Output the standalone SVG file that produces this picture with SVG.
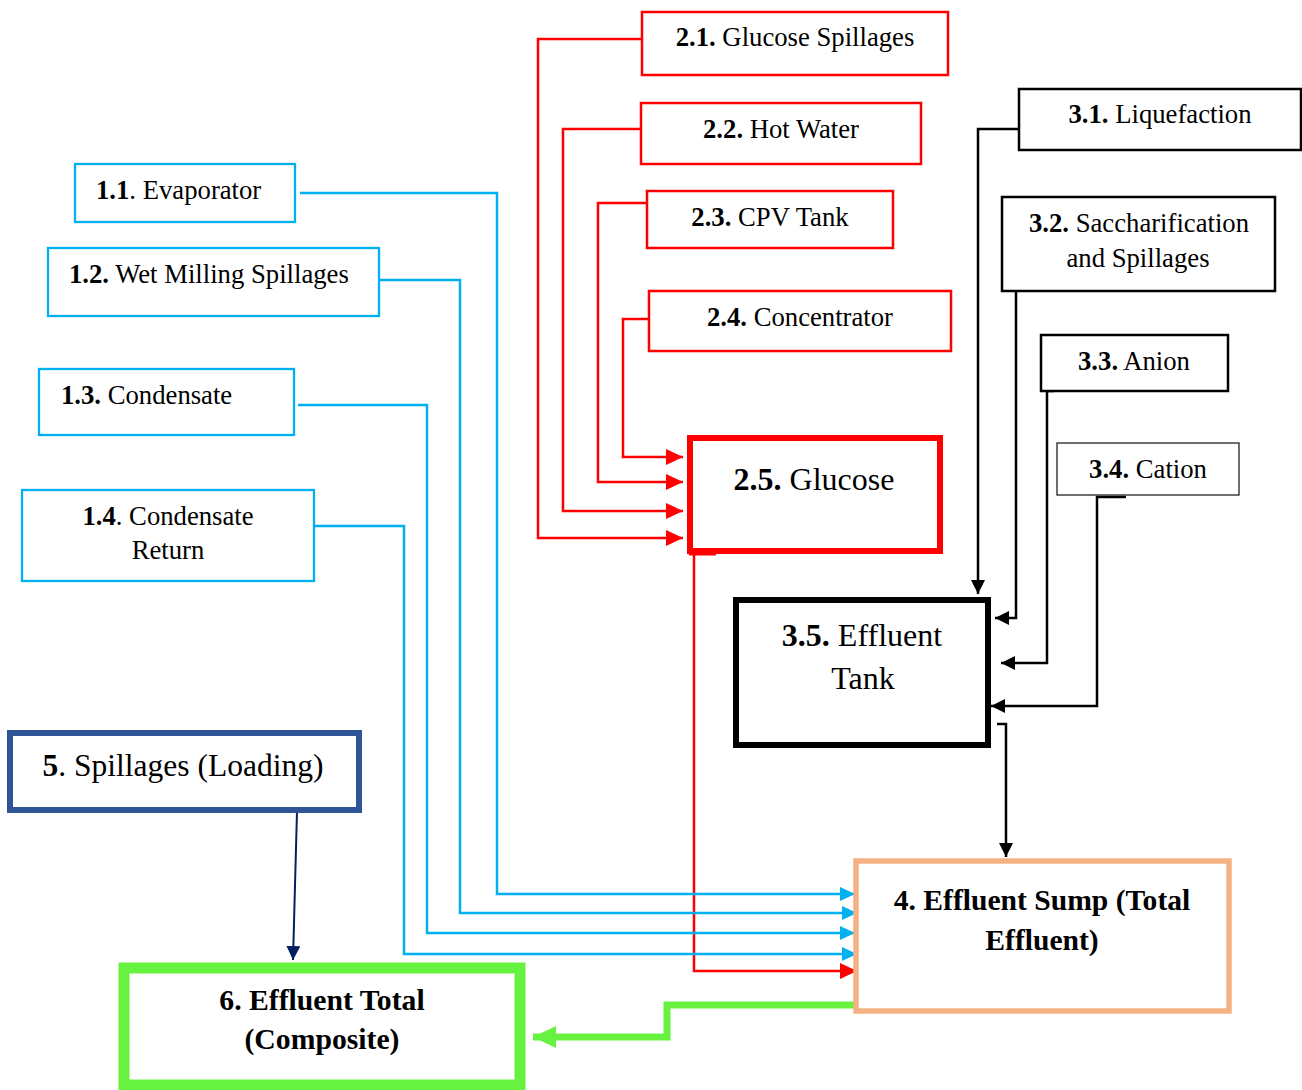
<svg xmlns="http://www.w3.org/2000/svg" width="1302" height="1090" viewBox="0 0 1302 1090">
<style>
text{font-family:"Liberation Serif","Times New Roman",serif;fill:#000;}
.t26{font-size:26.7px;}
.b{font-weight:bold;}
.red{fill:#fff;stroke:#ff0000;stroke-width:2.5;}
.blue{fill:#fff;stroke:#00b0f0;stroke-width:2.3;}
.blk{fill:#fff;stroke:#000;stroke-width:2.5;}
.cr{fill:none;stroke:#ff0000;stroke-width:2.5;}
.cb{fill:none;stroke:#00b0f0;stroke-width:2.5;}
.ck{fill:none;stroke:#000;stroke-width:2.5;}
</style>
<defs>
<marker id="ar" markerUnits="userSpaceOnUse" markerWidth="17" markerHeight="16" refX="17" refY="8" orient="auto"><path d="M0,0 L17,8 L0,16 z" fill="#ff0000"/></marker>
<marker id="ab" markerUnits="userSpaceOnUse" markerWidth="15" markerHeight="14" refX="15" refY="7" orient="auto"><path d="M0,0 L15,7 L0,14 z" fill="#00b0f0"/></marker>
<marker id="ak" markerUnits="userSpaceOnUse" markerWidth="14" markerHeight="14" refX="14" refY="7" orient="auto"><path d="M0,0 L14,7 L0,14 z" fill="#000"/></marker>
<marker id="an" markerUnits="userSpaceOnUse" markerWidth="14" markerHeight="14" refX="14" refY="7" orient="auto"><path d="M0,0 L14,7 L0,14 z" fill="#002060"/></marker>
<marker id="ag" markerUnits="userSpaceOnUse" markerWidth="23" markerHeight="22" refX="23" refY="11" orient="auto"><path d="M0,0 L23,11 L0,22 z" fill="#66f23f"/></marker>
</defs>

<g id="connectors">
<path class="cr" d="M642,39 H538 V538 H683" marker-end="url(#ar)"/>
<path class="cr" d="M642,129 H563 V511 H683" marker-end="url(#ar)"/>
<path class="cr" d="M648,203 H598 V482 H683" marker-end="url(#ar)"/>
<path class="cr" d="M648,319 H623 V457 H683" marker-end="url(#ar)"/>
<path d="M689,553 H716" fill="none" stroke="#ff0000" stroke-width="5"/>
<path class="cr" d="M694,553 V971 H857" marker-end="url(#ar)"/>
<path class="cb" d="M300,193 H497 V894 H855" marker-end="url(#ab)"/>
<path class="cb" d="M379,280 H460 V913 H857" marker-end="url(#ab)"/>
<path class="cb" d="M298,405 H427 V933 H855" marker-end="url(#ab)"/>
<path class="cb" d="M311,526 H404 V954 H857" marker-end="url(#ab)"/>
<path class="ck" d="M1022,129 H978 V594" marker-end="url(#ak)"/>
<path class="ck" d="M1027,236 H1016 V618 H995" marker-end="url(#ak)"/>
<path class="ck" d="M1054,391 H1047 V663 H1001" marker-end="url(#ak)"/>
<path class="ck" d="M1126,497 H1097 V706 H991" marker-end="url(#ak)"/>
<path class="ck" d="M997,724 H1006 V857" marker-end="url(#ak)"/>
<path d="M297,811 L293,960" fill="none" stroke="#002060" stroke-width="2" marker-end="url(#an)"/>
<path d="M857,1005 H667 V1037 H533" fill="none" stroke="#66f23f" stroke-width="7" marker-end="url(#ag)"/>
</g>

<g id="n2_1"><rect class="red" x="642" y="12" width="306" height="63"/>
<text class="t26" x="795" y="46" text-anchor="middle"><tspan class="b">2.1.</tspan> Glucose Spillages</text></g>
<g id="n2_2"><rect class="red" x="641" y="103" width="280" height="61"/>
<text class="t26" x="781" y="138" text-anchor="middle"><tspan class="b">2.2.</tspan> Hot Water</text></g>
<g id="n2_3"><rect class="red" x="647" y="191" width="246" height="57"/>
<text class="t26" x="770" y="226" text-anchor="middle"><tspan class="b">2.3.</tspan> CPV Tank</text></g>
<g id="n2_4"><rect class="red" x="649" y="291" width="302" height="60"/>
<text class="t26" x="800" y="326" text-anchor="middle"><tspan class="b">2.4.</tspan> Concentrator</text></g>
<g id="n2_5"><rect x="690" y="438" width="250" height="113" fill="#fff" stroke="#ff0000" stroke-width="6"/>
<text x="814" y="490" font-size="32" text-anchor="middle"><tspan class="b">2.5.</tspan> Glucose</text></g>

<g id="n1_1"><rect class="blue" x="75" y="164" width="220" height="58"/>
<text class="t26" x="96" y="199"><tspan class="b">1.1</tspan>. Evaporator</text></g>
<g id="n1_2"><rect class="blue" x="48" y="248" width="331" height="68"/>
<text class="t26" x="69" y="283"><tspan class="b">1.2.</tspan> Wet Milling Spillages</text></g>
<g id="n1_3"><rect class="blue" x="39" y="369" width="255" height="66"/>
<text class="t26" x="61" y="404"><tspan class="b">1.3.</tspan> Condensate</text></g>
<g id="n1_4"><rect class="blue" x="22" y="490" width="292" height="91"/>
<text class="t26" x="168" y="525" text-anchor="middle"><tspan class="b">1.4</tspan>. Condensate</text>
<text class="t26" x="168" y="559" text-anchor="middle">Return</text></g>

<g id="n3_1"><rect class="blk" x="1019" y="89" width="282" height="61"/>
<text class="t26" x="1160" y="123" text-anchor="middle"><tspan class="b">3.1.</tspan> Liquefaction</text></g>
<g id="n3_2"><rect class="blk" x="1002" y="197" width="273" height="94"/>
<text class="t26" x="1139" y="232" text-anchor="middle"><tspan class="b">3.2.</tspan> Saccharification</text>
<text class="t26" x="1138" y="267" text-anchor="middle">and Spillages</text></g>
<g id="n3_3"><rect class="blk" x="1041" y="335" width="187" height="56"/>
<text class="t26" x="1134" y="370" text-anchor="middle"><tspan class="b">3.3.</tspan> Anion</text></g>
<g id="n3_4"><rect x="1057" y="443" width="182" height="52" fill="#fff" stroke="#222" stroke-width="1.3"/>
<text class="t26" x="1148" y="478" text-anchor="middle"><tspan class="b">3.4.</tspan> Cation</text></g>
<g id="n3_5"><rect x="736" y="600" width="252" height="145" fill="#fff" stroke="#000" stroke-width="6"/>
<text x="862" y="646" font-size="32" text-anchor="middle"><tspan class="b">3.5.</tspan> Effluent</text>
<text x="863" y="689" font-size="32" text-anchor="middle">Tank</text></g>

<g id="n4"><rect x="856" y="861" width="373" height="150" fill="#fff" stroke="#f4b183" stroke-width="5.5"/>
<text x="1042" y="910" font-size="29.6" font-weight="bold" text-anchor="middle">4. Effluent Sump (Total</text>
<text x="1042" y="950" font-size="29.6" font-weight="bold" text-anchor="middle">Effluent)</text></g>

<g id="n5"><rect x="10" y="733" width="349" height="77" fill="#fff" stroke="#2f5597" stroke-width="6"/>
<text x="183" y="776" font-size="31.5" text-anchor="middle"><tspan class="b">5</tspan>. Spillages (Loading)</text></g>

<g id="n6"><rect x="124" y="968" width="396" height="117" fill="#fff" stroke="#66f23f" stroke-width="11"/>
<text x="322" y="1010" font-size="29.7" font-weight="bold" text-anchor="middle">6. Effluent Total</text>
<text x="322" y="1049" font-size="29.7" font-weight="bold" text-anchor="middle">(Composite)</text></g>
</svg>
